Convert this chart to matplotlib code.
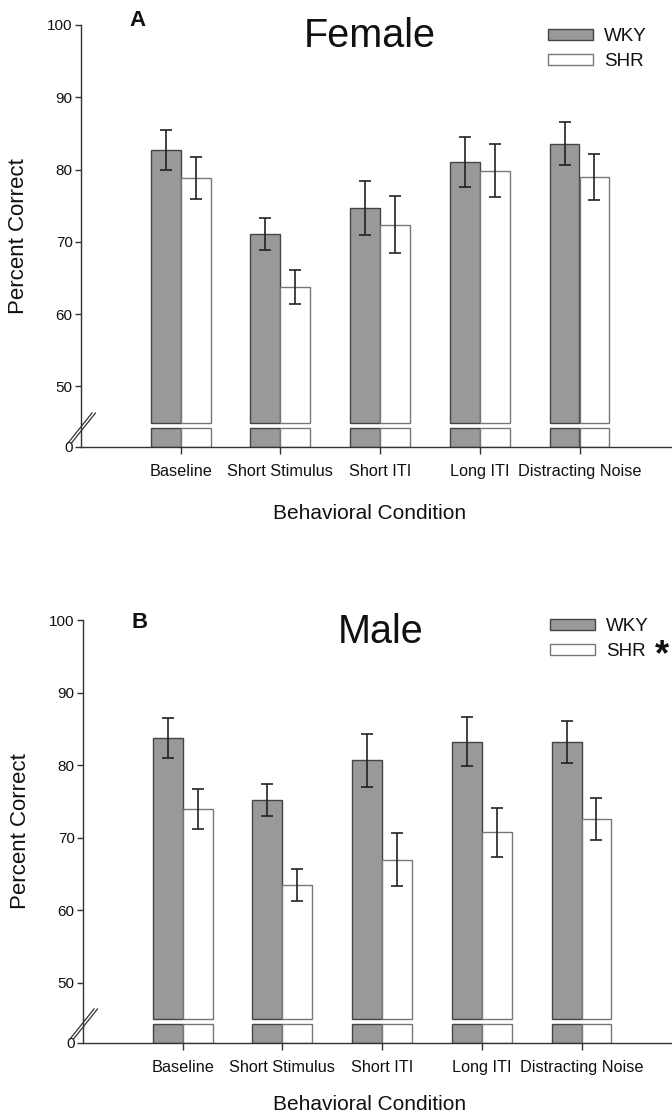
import numpy as np
import matplotlib
matplotlib.use("Agg")
import matplotlib.pyplot as plt
from matplotlib.lines import Line2D

plt.rcParams['font.family'] = ['Liberation Sans', 'DejaVu Sans']

conditions = ["Baseline", "Short Stimulus", "Short ITI", "Long ITI", "Distracting Noise"]
series = ["WKY", "SHR"]

female_wky = [82.7, 71.1, 74.7, 81.0, 83.6]
female_wky_err = [2.75, 2.2, 3.7, 3.45, 2.95]
female_shr = [78.9, 63.8, 72.4, 79.85, 79.0]
female_shr_err = [2.9, 2.35, 3.9, 3.65, 3.15]

male_wky = [83.7, 75.2, 80.7, 83.25, 83.2]
male_wky_err = [2.75, 2.2, 3.65, 3.4, 2.95]
male_shr = [74.0, 63.5, 67.0, 70.75, 72.55]
male_shr_err = [2.75, 2.15, 3.65, 3.4, 2.9]

yticks_upper = [50, 60, 70, 80, 90, 100]

W, H = 672, 1118
fig = plt.figure(figsize=(W / 100, H / 100), dpi=100)


def px_axes(l, t, r, b):
    return fig.add_axes([l / W, 1 - b / H, (r - l) / W, (b - t) / H])


GRAY = '#999999'
SPINE = '#333333'
TXT = '#111111'


def panel(left, top, brk_top, brk_bot, zero, px_per_unit, wky, wky_e, shr, shr_e,
          title, letter, letter_xy, title_xy, leg_xy, ylab_xy, xlab_y, star_xy=None):
    right = left + 6 * 99.7
    up = px_axes(left, top, right, brk_top)
    lo = px_axes(left, brk_top, right, zero)
    y_low = 100 - (brk_top - top) / px_per_unit
    up.set_ylim(y_low, 100)
    up.set_xlim(0, 6)
    lo.set_xlim(0, 6)
    lo.set_ylim(0, 1)
    stub = (zero - brk_bot) / (zero - brk_top)
    x = np.arange(1, len(conditions) + 1)
    bw = 0.3
    wky_a = np.array(wky)
    shr_a = np.array(shr)
    b1 = up.bar(x - bw / 2, wky_a - y_low, bw, bottom=y_low, color=GRAY,
                edgecolor='#444444', linewidth=1.0, clip_on=False, label=series[0])
    b2 = up.bar(x + bw / 2, shr_a - y_low, bw, bottom=y_low, color='white',
                edgecolor='#777777', linewidth=1.0, clip_on=False, label=series[1])
    lo.bar(x - bw / 2, [stub] * len(x), bw, color=GRAY, edgecolor='#444444', linewidth=1.0)
    lo.bar(x + bw / 2, [stub] * len(x), bw, color='white', edgecolor='#777777', linewidth=1.0)
    up.errorbar(x - bw / 2, wky_a, yerr=wky_e, fmt='none', ecolor='#222222',
                elinewidth=1.2, capsize=4.6, capthick=1.2, zorder=5)
    up.errorbar(x + bw / 2, shr_a, yerr=shr_e, fmt='none', ecolor='#222222',
                elinewidth=1.2, capsize=4.6, capthick=1.2, zorder=5)

    for a in (up, lo):
        for s in ('top', 'right'):
            a.spines[s].set_visible(False)
        a.spines['left'].set_color(SPINE)
        a.spines['left'].set_linewidth(1.0)
        a.tick_params(axis='y', direction='out', length=4, width=1.0, color=SPINE,
                      labelsize=11, labelcolor=TXT, pad=2)
        a.patch.set_alpha(0)
    up.spines['bottom'].set_visible(False)
    up.set_yticks(yticks_upper)
    up.set_xticks([])
    lo.spines['bottom'].set_color(SPINE)
    lo.spines['bottom'].set_linewidth(1.0)
    lo.set_yticks([0])
    lo.set_xticks(x)
    lo.set_xticklabels(conditions)
    lo.tick_params(axis='x', direction='out', length=5, width=1.0, color=SPINE,
                   labelsize=11.7, labelcolor=TXT, pad=7)

    # break marks
    for dx in (0, 3.5):
        fig.add_artist(Line2D([(left - 13 + dx) / W, (left + 11 + dx) / W],
                              [1 - (zero - 4) / H, 1 - (zero - 34) / H],
                              color=SPINE, linewidth=0.9))

    fig.text(title_xy[0] / W, 1 - title_xy[1] / H, title, fontsize=28.5,
             ha='center', va='center', color=TXT)
    fig.text(letter_xy[0] / W, 1 - letter_xy[1] / H, letter, fontsize=16,
             fontweight='bold', ha='center', va='center', color=TXT)
    fig.text(ylab_xy[0] / W, 1 - ylab_xy[1] / H, "Percent Correct", fontsize=16,
             rotation=90, ha='center', va='center', color=TXT)
    fig.text(370 / W, 1 - xlab_y / H, "Behavioral Condition", fontsize=15,
             ha='center', va='center', color=TXT)

    leg = up.legend(handles=[b1, b2], labels=series, loc='upper left',
                    bbox_to_anchor=(leg_xy[0] / W, 1 - leg_xy[1] / H),
                    bbox_transform=fig.transFigure, frameon=False, fontsize=13.5,
                    handlelength=2.4, handleheight=0.55, handletextpad=0.6,
                    labelspacing=0.45, borderpad=0, borderaxespad=0)
    for t in leg.get_texts():
        t.set_color(TXT)
    if star_xy is not None:
        fig.text(star_xy[0] / W, 1 - star_xy[1] / H, "*", fontsize=26, fontweight='bold',
                 ha='center', va='center', color=TXT)


panel(81, 25, 423, 428, 447, 7.23, female_wky, female_wky_err, female_shr, female_shr_err,
      "Female", "A", (138, 20), (370, 36), (548, 28), (19, 236), 513)
panel(83, 620, 1019, 1024, 1043, 7.26, male_wky, male_wky_err, male_shr, male_shr_err,
      "Male", "B", (140, 623), (381, 632), (550, 618), (21, 831), 1105, star_xy=(662, 656))

fig.savefig("out.png", dpi=100)
